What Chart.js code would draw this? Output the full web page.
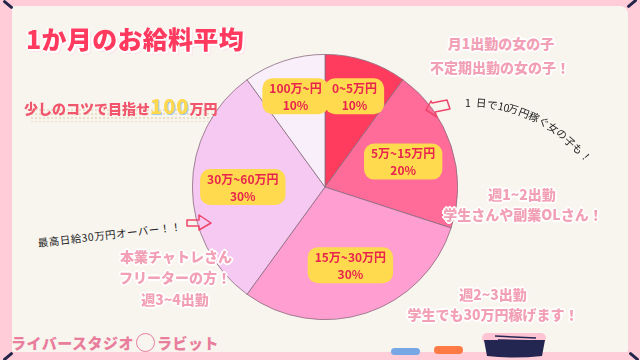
<!DOCTYPE html>
<html lang="ja">
<head>
<meta charset="UTF-8">
<title>1か月のお給料平均</title>
<script src="https://cdn.jsdelivr.net/npm/chart.js"></script>
<style>
  html, body { margin: 0; padding: 0; }
  body { width: 640px; height: 360px; overflow: hidden; background: #FFCCD7; position: relative;
         font-family: "Noto Sans CJK JP", "Noto Sans", sans-serif; }
  .board { position: absolute; left: 12px; top: 6px; width: 616px; height: 346px; background: #F8F5EF;
           border-radius: 2px 8px 2px 2px; }
  .t { position: absolute; white-space: nowrap; font-weight: 900; z-index: 2; }
  .pink { color: #F2A0B5; font-size: 14px; text-align: center; transform: translateX(-50%);
          text-shadow: 2px 0 #fff, -2px 0 #fff, 0 2px #fff, 0 -2px #fff, 1px 1px #fff, -1px -1px #fff, 1px -1px #fff, -1px 1px #fff; }
  .hand { color: #222; font-weight: 400; font-size: 10.5px; }
  #chart { position: absolute; left: 192px; top: 54px; z-index: 1; }
  .corner { position: absolute; width: 12px; height: 3px; background: #23254A; border-radius: 2px; }
  svg { z-index: 2; }
</style>
</head>
<body>
<div class="board"></div>
<canvas id="chart" width="266" height="266"></canvas>

<div class="corner" style="left:2px;top:3px;transform:rotate(40deg)"></div>
<div class="corner" style="left:626px;top:2px;transform:rotate(-40deg)"></div>
<div class="corner" style="left:2px;top:355px;transform:rotate(-40deg)"></div>
<div class="corner" style="left:628px;top:355px;transform:rotate(40deg)"></div>

<div class="t" style="left:26px;top:20px;font-size:25px;color:#FF3A5E;letter-spacing:0.3px;
  text-shadow:2px 2px #fff,-2px 0 #fff,0 2px #fff,3px 3px #fde3e8;">1か月のお給料平均</div>
<div style="position:absolute;left:30px;top:108px;width:190px;height:14px;
  background:radial-gradient(circle, rgba(220,200,160,0.5) 1px, transparent 1.5px) 0 0/4px 4px;"></div>
<div class="t" style="left:24px;top:91px;font-size:14px;color:#F2566C;">少しのコツで目指せ<span style="font-size:20px;color:#FFD84D;text-shadow:1px 1px #9fc8f0;letter-spacing:1px;">100</span>万円</div>

<div class="t pink" style="left:501px;top:33px;">月1出勤の女の子</div>
<div class="t pink" style="left:500px;top:57px;">不定期出勤の女の子！</div>
<div id="curve"></div>

<div class="t pink" style="left:522px;top:184px;">週1~2出勤</div>
<div class="t pink" style="left:523px;top:204px;">学生さんや副業OLさん！</div>
<div class="t pink" style="left:493px;top:284px;">週2~3出勤</div>
<div class="t pink" style="left:493px;top:304px;">学生でも30万円稼げます！</div>

<div class="t hand" style="left:37px;top:235px;transform:rotate(-6.5deg);transform-origin:left top;letter-spacing:0.5px;">最高日給30万円オーバー！！</div>
<div class="t pink" style="left:176px;top:246px;">本業チャトレさん</div>
<div class="t pink" style="left:175px;top:267px;">フリーターの方！</div>
<div class="t pink" style="left:175px;top:289px;">週3~4出勤</div>

<div class="t" style="left:11px;top:332px;font-size:15px;color:#E97E9C;letter-spacing:0.5px;">ライバースタジオ<span style="display:inline-block;width:17px;height:17px;border:1.5px solid #E97E9C;border-radius:50%;vertical-align:-3px;margin:0 2px;"></span>ラビット</div>

<svg style="position:absolute;left:0;top:0" width="640" height="360">
  <g fill="none" stroke="#F0456A" stroke-width="1.5" stroke-linejoin="round">
    <path d="M432 103 L447 100 L450 109 L435 112 L437 117 L426 110 L431 101 Z"/>
    <path d="M187 220 L199 220 L199 215 L211 223 L199 230 L199 226 L187 226 Z"/>
  </g>
  <rect x="391" y="348" width="29" height="7" rx="3.5" fill="#78A7E6"/>
  <rect x="434" y="346" width="29" height="8" rx="4" fill="#FF7A45"/>
  <rect x="482" y="333" width="64" height="10" rx="5" fill="#FFC4D3"/>
  <path d="M484 340 H545 L542 356 Q514 359 487 356 Z" fill="#232651"/>
  <line x1="495" y1="336" x2="536" y2="338" stroke="#232651" stroke-width="1.5"/>
  <line x1="498" y1="340" x2="540" y2="341" stroke="#232651" stroke-width="1.5"/>
</svg>

<script>
  // 収入帯ごとの割合
  const categories = ["0~5万円", "5万~15万円", "15万~30万円", "30万~60万円", "100万~円"];
  const percents = [10, 20, 30, 30, 10];
  const sliceColors = ["#FF3B5E", "#FF6C9A", "#FF9ED0", "#F5C9F2", "#F8EFFB"];

  // 手書き風のカーブ文字
  const curveText = ["1", "日", "で", "10", "万", "円", "稼", "ぐ", "女", "の", "子", "も", "！"];
  const holder = document.getElementById("curve");
  curveText.forEach((ch, i) => {
    const deg = -90 + i * 4.2;
    const a = deg * Math.PI / 180;
    const s = document.createElement("span");
    s.className = "t hand";
    s.textContent = ch;
    s.style.left = (465 + Math.cos(a) * 150) + "px";
    s.style.top = (252 + Math.sin(a) * 150 - 7) + "px";
    s.style.transform = "rotate(" + (deg + 90) + "deg)";
    holder.appendChild(s);
  });

  const labelBoxes = {
    id: "labelBoxes",
    afterDatasetsDraw(chart) {
      const ctx = chart.ctx;
      chart.getDatasetMeta(0).data.forEach((arc, i) => {
        const a = (arc.startAngle + arc.endAngle) / 2;
        const f = percents[i] <= 10 ? 0.72 : 0.62;
        const x = arc.x + Math.cos(a) * arc.outerRadius * f;
        const y = arc.y + Math.sin(a) * arc.outerRadius * f;
        ctx.save();
        ctx.font = "bold 12px 'Noto Sans CJK JP', sans-serif";
        const w = Math.max(ctx.measureText(categories[i]).width, 30) + 14;
        const h = 36;
        ctx.fillStyle = "#FFD94E";
        ctx.beginPath();
        ctx.roundRect(x - w / 2, y - h / 2, w, h, 10);
        ctx.fill();
        ctx.fillStyle = "#E8244E";
        ctx.textAlign = "center";
        ctx.textBaseline = "middle";
        ctx.fillText(categories[i], x, y - 8);
        ctx.fillText(percents[i] + "%", x, y + 9);
        ctx.restore();
      });
    }
  };

  new Chart(document.getElementById("chart"), {
    type: "pie",
    data: {
      labels: categories,
      datasets: [{
        data: percents,
        backgroundColor: sliceColors,
        borderColor: "#8A6A7C",
        borderWidth: 0.8
      }]
    },
    options: {
      responsive: false,
      animation: false,
      layout: { padding: 0 },
      plugins: { legend: { display: false }, tooltip: { enabled: false } }
    },
    plugins: [labelBoxes]
  });
</script>
</body>
</html>
